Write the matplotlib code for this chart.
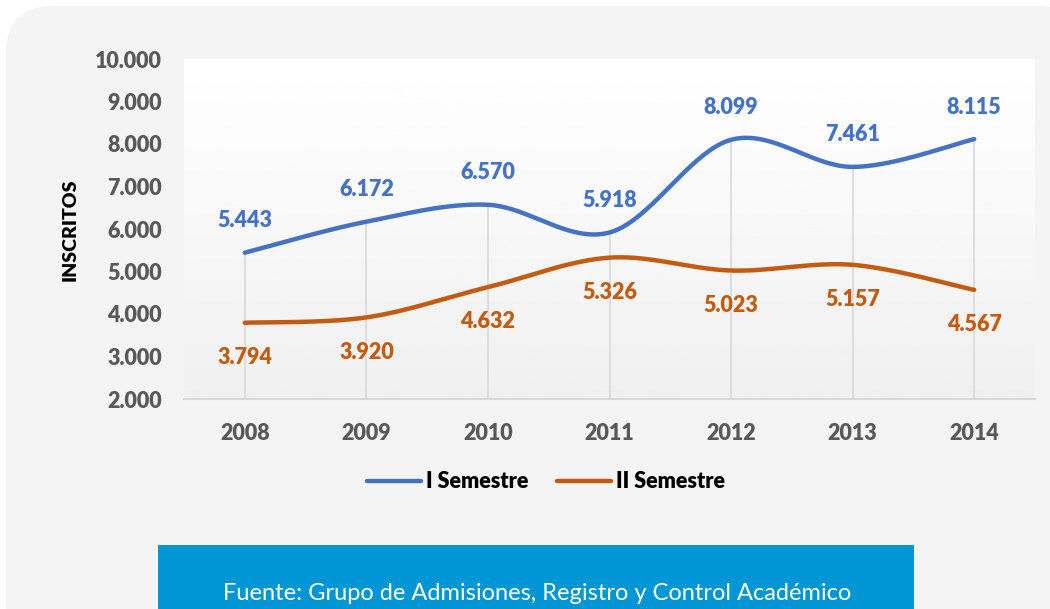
import numpy as np
import matplotlib
matplotlib.use("Agg")
import matplotlib.pyplot as plt
from matplotlib.patches import FancyBboxPatch, Rectangle
from matplotlib.ticker import FuncFormatter

# data
years = ["2008", "2009", "2010", "2011", "2012", "2013", "2014"]
sem1 = [5443, 6172, 6570, 5918, 8099, 7461, 8115]
sem2 = [3794, 3920, 4632, 5326, 5023, 5157, 4567]
series_names = ["I Semestre", "II Semestre"]
source_text = "Fuente: Grupo de Admisiones, Registro y Control Académico"

BLUE = "#4472C4"
ORANGE = "#C55A11"
GREY_TXT = "#595959"
W, H = 1050, 609


def fmt_miles(v):
    # 5443 -> "5.443"
    return f"{int(round(v)):,}".replace(",", ".")


def smooth(xs, ys, n=40):
    # bezier smoothing like the spreadsheet "smoothed line" option
    xs = np.asarray(xs, float)
    ys = np.asarray(ys, float)
    px = np.concatenate([[xs[0]], xs, [xs[-1]]])
    py = np.concatenate([[ys[0]], ys, [ys[-1]]])
    outx, outy = [], []
    t = np.linspace(0, 1, n)
    for i in range(1, len(px) - 2):
        p0 = np.array([px[i], py[i]])
        p3 = np.array([px[i + 1], py[i + 1]])
        p1 = p0 + (np.array([px[i + 1], py[i + 1]]) - np.array([px[i - 1], py[i - 1]])) / 6
        p2 = p3 - (np.array([px[i + 2], py[i + 2]]) - np.array([px[i], py[i]])) / 6
        b = ((1 - t) ** 3)[:, None] * p0 + (3 * (1 - t) ** 2 * t)[:, None] * p1 \
            + (3 * (1 - t) * t ** 2)[:, None] * p2 + (t ** 3)[:, None] * p3
        outx.extend(b[:, 0])
        outy.extend(b[:, 1])
    return np.array(outx), np.array(outy)


plt.rcParams["font.family"] = ["Lato", "DejaVu Sans"]
FS = 15.5

fig = plt.figure(figsize=(W / 100, H / 100), dpi=100)
fig.patch.set_facecolor("white")

# rounded grey card behind everything
card = FancyBboxPatch((6 / W, -40 / H), (W + 30) / W, (H + 34) / H,
                      boxstyle="round,pad=0,rounding_size=0.045",
                      transform=fig.transFigure, facecolor="#f4f4f4",
                      edgecolor="none", zorder=-10, mutation_aspect=W / H)
fig.patches.append(card)

ax = fig.add_axes([184 / W, 1 - 399 / H, (1035 - 184) / W, (399 - 59) / H])
x = np.arange(len(years))
ax.set_xlim(-0.5, len(years) - 0.5)
ax.set_ylim(2000, 10000)

# plot area: white fading to light grey at the bottom
grad = np.linspace(1.0, 0.94, 256)[:, None] * np.ones((1, 2))
ax.imshow(grad, cmap="gray", vmin=0, vmax=1, aspect="auto",
          extent=[-0.5, len(years) - 0.5, 2000, 10000], origin="upper", zorder=0)

# drop lines
tops = np.maximum(sem1, sem2)
ax.vlines(x, 2000, tops, colors="#d9d9d9", linewidth=1.2, zorder=1)

for vals, col, name in [(sem1, BLUE, series_names[0]), (sem2, ORANGE, series_names[1])]:
    sx, sy = smooth(x, vals)
    ax.plot(sx, sy, color=col, linewidth=3.2, solid_capstyle="round", label=name, zorder=3)

for xi, v in zip(x, sem1):
    ax.annotate(fmt_miles(v), (xi, v), xytext=(0, 23), textcoords="offset points",
                ha="center", va="center", color=BLUE, fontsize=FS, fontweight="heavy")
for xi, v in zip(x, sem2):
    ax.annotate(fmt_miles(v), (xi, v), xytext=(0, -25), textcoords="offset points",
                ha="center", va="center", color=ORANGE, fontsize=FS, fontweight="heavy")

ax.set_xticks(x)
ax.set_xticklabels(years)
ax.set_yticks(np.arange(2000, 10001, 1000))
ax.yaxis.set_major_formatter(FuncFormatter(lambda v, p: fmt_miles(v)))
ax.tick_params(axis="both", length=0, labelsize=FS, labelcolor=GREY_TXT)
ax.tick_params(axis="y", pad=16)
ax.tick_params(axis="x", pad=17)
for lab in ax.get_xticklabels() + ax.get_yticklabels():
    lab.set_fontweight("heavy")
for s in ["top", "right", "left"]:
    ax.spines[s].set_visible(False)
ax.spines["bottom"].set_color("#d9d9d9")
ax.spines["bottom"].set_linewidth(1.5)

fig.text(70 / W, 1 - 230 / H, "INSCRITOS", rotation=90, ha="center", va="center",
         fontsize=14, fontweight="heavy", color="black")

leg = fig.legend(loc="center", bbox_to_anchor=(546 / W, 1 - 482 / H), ncol=2,
                 frameon=False, handlelength=2.5, handletextpad=0.25, columnspacing=1.3,
                 prop={"weight": "heavy", "size": FS})

# source box
fig.patches.append(Rectangle((158 / W, 0), (914 - 158) / W, (H - 545) / H,
                             transform=fig.transFigure, facecolor="#0096d6",
                             edgecolor="none", zorder=-5))
fig.text(537 / W, 1 - 593 / H, source_text, ha="center", va="center",
         fontsize=17, color="white", fontweight="normal")

fig.savefig("out.png", dpi=100)
